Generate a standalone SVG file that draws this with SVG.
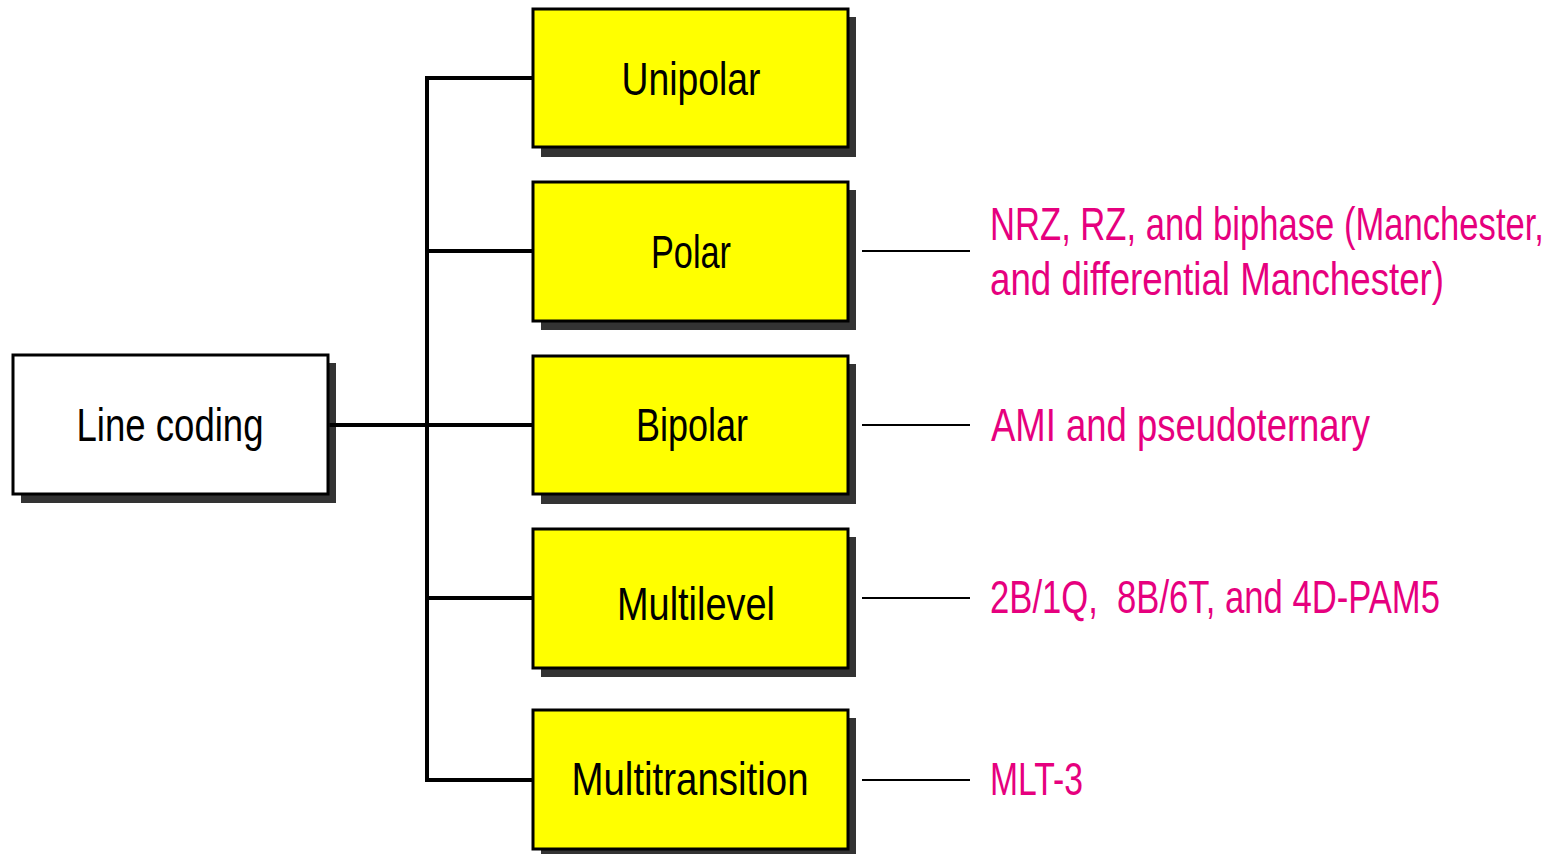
<svg xmlns="http://www.w3.org/2000/svg" width="1564" height="854" viewBox="0 0 1564 854">
<style>
.shadow{fill:#333333;}
.box{stroke:#000;stroke-width:3;}
.white{fill:#ffffff;}
.yellow{fill:#ffff00;}
.lbl{font-family:"Liberation Sans",Arial,sans-serif;font-size:46px;fill:#000;text-anchor:middle;}
.note{font-family:"Liberation Sans",Arial,sans-serif;font-size:46px;fill:#e6007e;}
.trunk{stroke:#000;stroke-width:4;fill:none;}
.thin{stroke:#000;stroke-width:2;fill:none;}
</style>
<rect width="1564" height="854" fill="#ffffff"/>
<g id="line-coding">
<rect class="shadow" x="21" y="363" width="315" height="140"/>
<rect class="box white" x="13" y="355" width="315" height="139"/>
<text class="lbl" x="170" y="441" textLength="187" lengthAdjust="spacingAndGlyphs">Line coding</text>
</g>
<g id="unipolar">
<rect class="shadow" x="541" y="17" width="315" height="140"/>
<rect class="box yellow" x="533" y="9" width="315" height="138"/>
<text class="lbl" x="691" y="95" textLength="139" lengthAdjust="spacingAndGlyphs">Unipolar</text>
</g>
<g id="polar">
<rect class="shadow" x="541" y="190" width="315" height="140"/>
<rect class="box yellow" x="533" y="182" width="315" height="139"/>
<text class="lbl" x="691" y="268" textLength="80" lengthAdjust="spacingAndGlyphs">Polar</text>
</g>
<g id="bipolar">
<rect class="shadow" x="541" y="364" width="315" height="140"/>
<rect class="box yellow" x="533" y="356" width="315" height="138"/>
<text class="lbl" x="692" y="441" textLength="112" lengthAdjust="spacingAndGlyphs">Bipolar</text>
</g>
<g id="multilevel">
<rect class="shadow" x="541" y="537" width="315" height="140"/>
<rect class="box yellow" x="533" y="529" width="315" height="139"/>
<text class="lbl" x="696" y="620" textLength="158" lengthAdjust="spacingAndGlyphs">Multilevel</text>
</g>
<g id="multitransition">
<rect class="shadow" x="541" y="718" width="315" height="140"/>
<rect class="box yellow" x="533" y="710" width="315" height="139"/>
<text class="lbl" x="690" y="795" textLength="237" lengthAdjust="spacingAndGlyphs">Multitransition</text>
</g>
<g id="connectors">
<path class="trunk" d="M329.5 425H533 M427 76V782 M425 78H533 M427 251H533 M427 598H533 M425 780H533"/>
<path class="thin" d="M862 251H970 M862 425H970 M862 598H970 M862 780H970"/>
</g>
<g id="notes">
<text class="note" x="990" y="240" textLength="554" lengthAdjust="spacingAndGlyphs">NRZ, RZ, and biphase (Manchester,</text>
<text class="note" x="990" y="295" textLength="454" lengthAdjust="spacingAndGlyphs">and differential Manchester)</text>
<text class="note" x="991" y="441" textLength="379" lengthAdjust="spacingAndGlyphs">AMI and pseudoternary</text>
<text class="note" x="990" y="613" textLength="450" lengthAdjust="spacingAndGlyphs" xml:space="preserve">2B/1Q,  8B/6T, and 4D-PAM5</text>
<text class="note" x="990" y="795" textLength="93" lengthAdjust="spacingAndGlyphs">MLT-3</text>
</g>
</svg>
